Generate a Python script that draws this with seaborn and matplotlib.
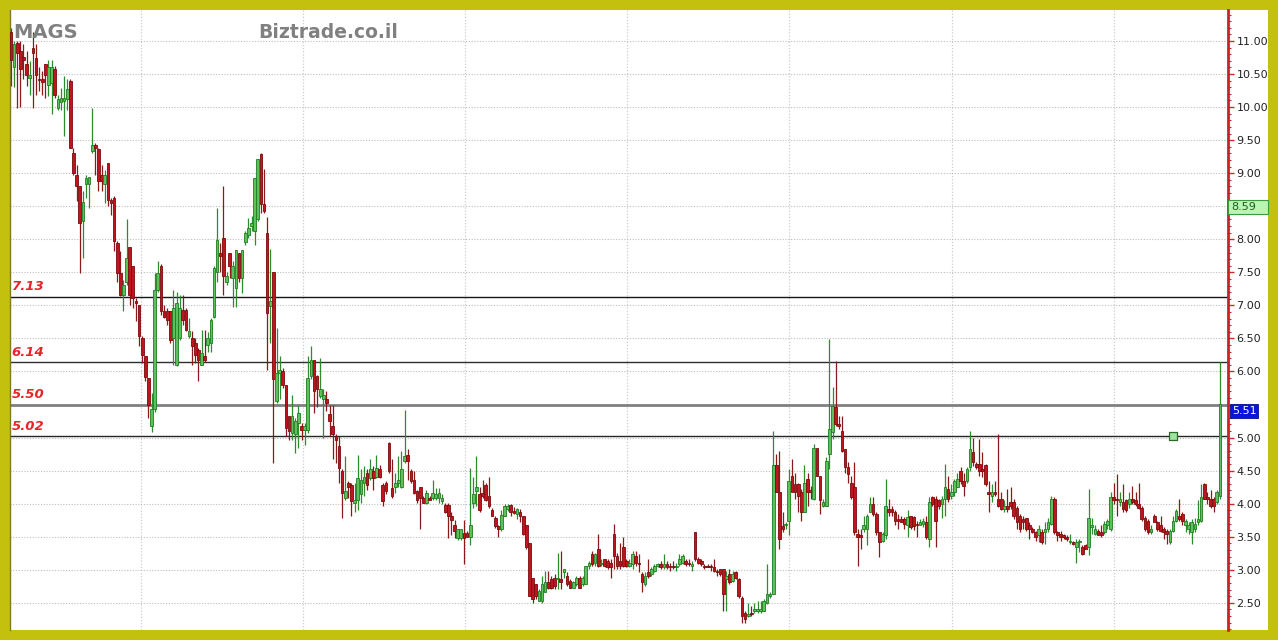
import matplotlib
matplotlib.use("Agg")
import matplotlib.pyplot as plt
from matplotlib.patches import Rectangle
from matplotlib.ticker import MultipleLocator
import numpy as np
import pandas as pd
import seaborn as sns

# ---------------- data (daily OHLC) ----------------
open_ = [
    11.13, 10.6, 10.97, 10.85, 10.76, 10.65, 10.44, 10.9, 10.75, 10.43,
    10.42, 10.65, 10.34, 10.37, 10.57, 9.99, 10.07, 10.09, 10.12, 10.39,
    9.31, 8.98, 8.8, 8.27, 8.83, 8.83, 9.33, 9.43, 9.36, 8.98,
    8.83, 9.16, 8.6, 8.63, 7.94, 7.49, 7.16, 7.36, 7.89, 7.59,
    7.06, 7.01, 6.5, 6.23, 5.9, 5.17, 5.44, 7.24, 7.59, 6.91,
    6.91, 6.91, 6.5, 6.1, 6.5, 6.93, 6.93, 6.53, 6.5, 6.43,
    6.33, 6.1, 6.23, 6.4, 6.43, 6.83, 7.51, 7.8, 8.02, 7.36,
    7.79, 7.41, 7.26, 7.79, 7.41, 7.96, 8.07, 8.2, 8.13, 8.3,
    9.29, 8.53, 8.1, 6.99, 7.5, 5.55, 5.98, 6.0, 5.8, 5.32,
    5.07, 5.05, 5.22, 5.17, 5.12, 5.12, 5.93, 6.18, 5.93, 5.63,
    5.58, 5.58, 5.35, 5.17, 5.02, 4.87, 4.49, 4.09, 4.31, 4.29,
    4.01, 4.06, 4.14, 4.31, 4.46, 4.39, 4.49, 4.41, 4.52, 4.29,
    4.31, 4.92, 4.24, 4.26, 4.31, 4.26, 4.64, 4.74, 4.49, 4.36,
    4.19, 4.26, 4.09, 4.01, 4.09, 4.09, 4.09, 4.09, 4.04, 3.98,
    3.98, 3.81, 3.68, 3.48, 3.48, 3.56, 3.56, 3.5, 4.01, 4.19,
    4.14, 4.16, 4.29, 4.11, 3.91, 3.78, 3.66, 3.61, 3.82, 3.92,
    3.98, 3.89, 3.84, 3.87, 3.82, 3.67, 3.41, 2.88, 2.78, 2.53,
    2.53, 2.66, 2.81, 2.86, 2.88, 2.86, 2.86, 2.96, 2.91, 2.83,
    2.73, 2.78, 2.88, 2.78, 2.78, 3.06, 3.24, 3.11, 3.31, 3.09,
    3.16, 3.14, 3.11, 3.54, 3.21, 3.14, 3.34, 3.14, 3.06, 3.09,
    3.21, 3.11, 2.93, 2.78, 2.96, 2.93, 2.98, 3.06, 3.09, 3.04,
    3.09, 3.06, 3.06, 3.04, 3.09, 3.11, 3.14, 3.11, 3.06, 3.57,
    3.16, 3.14, 3.06, 3.06, 3.06, 3.04, 2.98, 3.01, 3.01, 2.86,
    2.93, 2.83, 2.96, 2.86, 2.58, 2.35, 2.3, 2.35, 2.38, 2.38,
    2.38, 2.38, 2.5, 2.61, 2.64, 4.58, 4.17, 3.66, 3.67, 3.74,
    4.42, 4.3, 4.3, 4.17, 3.87, 4.37, 4.2, 4.07, 4.85, 4.42,
    3.97, 3.97, 4.75, 5.08, 5.46, 5.2, 5.1, 4.83, 4.55, 4.32,
    4.25, 3.54, 3.52, 3.62, 3.62, 3.87, 4.0, 3.85, 3.57, 3.44,
    3.52, 3.92, 3.92, 3.87, 3.77, 3.77, 3.77, 3.67, 3.82, 3.8,
    3.69, 3.67, 3.69, 3.72, 3.47, 4.1, 4.07, 4.05, 3.99, 4.07,
    4.22, 4.12, 4.17, 4.25, 4.5, 4.35, 4.35, 4.55, 4.78, 4.6,
    4.6, 4.53, 4.58, 4.17, 4.12, 4.17, 4.07, 4.07, 3.92, 3.97,
    4.02, 4.02, 3.94, 3.82, 3.77, 3.79, 3.67, 3.62, 3.57, 3.52,
    3.57, 3.57, 3.62, 3.69, 4.07, 3.57, 3.54, 3.52, 3.49, 3.42,
    3.42, 3.34, 3.42, 3.34, 3.37, 3.34, 3.64, 3.54, 3.59, 3.57,
    3.57, 3.67, 3.62, 4.1, 4.07, 4.02, 4.02, 4.05, 3.99, 4.07,
    4.05, 4.0, 3.94, 3.79, 3.74, 3.57, 3.82, 3.72, 3.67, 3.62,
    3.59, 3.42, 3.59, 3.74, 3.82, 3.84, 3.67, 3.62, 3.57, 3.62,
    3.72, 3.74, 4.3, 4.1, 4.07, 4.07, 4.02, 4.12,
]
high = [
    11.2, 11.0, 11.0, 11.0, 10.95, 10.85, 10.7, 11.13, 10.95, 10.6,
    10.55, 10.65, 10.72, 10.72, 10.62, 10.19, 10.29, 10.47, 10.42, 10.42,
    9.38, 9.13, 8.8, 8.73, 8.98, 8.95, 9.99, 9.46, 9.38, 9.13,
    9.05, 9.16, 8.63, 8.65, 7.97, 7.82, 7.39, 8.3, 7.89, 7.59,
    7.11, 7.01, 6.53, 6.23, 5.9, 5.67, 7.49, 7.67, 7.62, 7.01,
    6.96, 6.91, 7.24, 7.21, 7.16, 7.16, 6.96, 6.81, 6.61, 6.5,
    6.35, 6.63, 6.63, 6.6, 6.81, 7.59, 8.47, 7.94, 8.8, 7.51,
    7.79, 7.67, 7.84, 7.79, 7.84, 8.12, 8.32, 8.35, 8.93, 9.21,
    9.3, 9.06, 8.33, 7.85, 7.5, 6.66, 6.23, 6.05, 5.8, 5.32,
    5.65, 5.3, 5.5, 5.22, 5.22, 6.23, 6.38, 6.18, 5.95, 6.2,
    5.73, 5.7, 5.5, 5.5, 5.05, 5.02, 4.52, 4.72, 4.34, 4.31,
    4.31, 4.74, 4.52, 4.57, 4.52, 4.67, 4.57, 4.74, 4.59, 4.31,
    4.34, 4.94, 4.67, 4.46, 4.72, 4.79, 5.42, 4.82, 4.52, 4.49,
    4.21, 4.26, 4.11, 4.21, 4.11, 4.36, 4.24, 4.24, 4.14, 4.01,
    4.01, 3.88, 3.76, 3.61, 3.61, 3.76, 3.58, 4.54, 4.41, 4.72,
    4.26, 4.36, 4.31, 4.41, 3.93, 3.81, 3.68, 3.91, 3.99, 3.99,
    3.99, 3.95, 3.94, 3.92, 3.82, 3.67, 3.41, 2.88, 2.78, 2.71,
    2.91, 2.98, 2.98, 2.91, 2.93, 3.26, 3.29, 3.01, 2.96, 2.86,
    2.83, 2.91, 2.91, 2.91, 3.06, 3.14, 3.29, 3.26, 3.54, 3.16,
    3.16, 3.16, 3.16, 3.69, 3.26, 3.41, 3.49, 3.16, 3.16, 3.29,
    3.29, 3.24, 2.96, 2.96, 3.16, 3.04, 3.09, 3.11, 3.14, 3.24,
    3.14, 3.11, 3.14, 3.11, 3.24, 3.24, 3.16, 3.16, 3.14, 3.57,
    3.19, 3.16, 3.09, 3.09, 3.09, 3.16, 3.01, 3.01, 3.01, 2.98,
    3.01, 2.98, 2.98, 2.88, 2.61, 2.38, 2.5, 2.45, 2.5, 2.53,
    2.53, 2.56, 3.09, 2.66, 5.1, 4.75, 4.8, 3.87, 3.72, 4.52,
    4.68, 4.47, 4.32, 4.22, 4.58, 4.47, 4.27, 4.9, 4.85, 4.42,
    4.07, 4.7, 6.49, 5.76, 6.16, 5.33, 5.33, 4.83, 4.63, 4.42,
    4.63, 3.62, 3.62, 3.82, 3.85, 4.1, 4.1, 3.87, 3.57, 3.57,
    4.37, 4.07, 3.97, 3.9, 3.85, 3.82, 3.8, 3.9, 3.82, 3.82,
    3.74, 3.77, 3.79, 3.82, 4.1, 4.12, 4.12, 4.07, 4.12, 4.6,
    4.42, 4.3, 4.37, 4.47, 4.55, 4.47, 4.55, 5.1, 5.0, 4.63,
    4.98, 4.78, 4.6, 4.35, 4.3, 4.35, 5.05, 4.17, 4.05, 4.22,
    4.25, 4.07, 3.97, 3.84, 3.82, 3.79, 3.72, 3.65, 3.59, 3.67,
    3.62, 3.72, 3.79, 4.12, 4.1, 3.59, 3.59, 3.54, 3.52, 3.54,
    3.44, 3.47, 3.47, 3.37, 3.39, 4.22, 3.79, 3.67, 3.62, 3.67,
    3.74, 3.77, 4.17, 4.32, 4.45, 4.17, 4.3, 4.07, 4.17, 4.27,
    4.17, 4.32, 3.97, 3.82, 3.77, 3.67, 3.84, 3.74, 3.82, 3.64,
    3.62, 3.62, 3.82, 3.92, 4.07, 3.87, 3.77, 3.72, 3.77, 3.79,
    4.05, 4.3, 4.32, 4.17, 4.2, 4.1, 4.2, 6.14,
]
low = [
    10.32, 10.3, 9.99, 10.0, 10.42, 10.32, 10.19, 9.99, 10.19, 10.24,
    10.19, 10.14, 10.17, 9.89, 10.14, 9.96, 9.96, 9.56, 9.96, 9.38,
    8.98, 8.58, 7.49, 7.72, 8.62, 8.47, 9.31, 8.98, 8.73, 8.73,
    8.55, 8.5, 8.37, 7.82, 7.36, 7.14, 6.91, 7.31, 7.01, 6.96,
    6.76, 6.38, 6.13, 5.85, 5.29, 5.09, 5.39, 7.2, 6.86, 6.81,
    6.71, 6.43, 6.1, 6.08, 6.48, 6.71, 6.61, 6.5, 6.1, 6.13,
    5.85, 6.1, 6.15, 6.3, 6.3, 6.81, 7.36, 7.51, 7.16, 7.31,
    7.41, 6.98, 6.98, 7.36, 7.19, 7.92, 8.02, 8.12, 7.92, 8.28,
    8.4, 8.4, 6.03, 6.43, 4.62, 5.53, 5.58, 5.75, 5.02, 4.97,
    4.97, 4.77, 4.84, 4.97, 4.89, 5.07, 5.88, 5.37, 5.47, 5.6,
    5.0, 5.4, 5.02, 4.67, 4.62, 4.31, 3.78, 4.06, 4.09, 3.81,
    3.88, 3.91, 4.01, 4.11, 4.21, 4.36, 4.21, 4.39, 4.39, 3.96,
    4.14, 4.46, 4.09, 4.16, 4.26, 4.24, 4.62, 4.36, 4.31, 4.14,
    4.01, 3.61, 4.01, 3.99, 4.06, 4.06, 4.06, 4.01, 3.99, 3.86,
    3.48, 3.53, 3.48, 3.45, 3.45, 3.08, 3.5, 3.38, 3.93, 3.96,
    3.88, 4.09, 4.04, 3.93, 3.81, 3.63, 3.5, 3.58, 3.82, 3.89,
    3.82, 3.84, 3.77, 3.72, 3.52, 3.31, 2.61, 2.5, 2.56, 2.53,
    2.5, 2.66, 2.71, 2.71, 2.71, 2.71, 2.71, 2.88, 2.76, 2.73,
    2.73, 2.76, 2.73, 2.76, 2.78, 3.01, 3.06, 3.06, 3.04, 3.06,
    3.04, 3.01, 2.88, 3.01, 3.01, 3.01, 3.04, 3.04, 3.04, 3.01,
    3.06, 2.96, 2.66, 2.76, 2.88, 2.91, 2.96, 3.04, 3.01, 3.01,
    3.01, 2.98, 3.01, 2.98, 3.06, 3.09, 3.06, 3.06, 2.98, 3.14,
    3.09, 3.06, 3.01, 3.04, 2.98, 2.96, 2.91, 2.91, 2.38, 2.38,
    2.78, 2.81, 2.86, 2.58, 2.2, 2.2, 2.28, 2.3, 2.35, 2.35,
    2.35, 2.38, 2.48, 2.58, 2.64, 4.17, 3.32, 3.57, 3.62, 3.52,
    4.17, 4.07, 3.87, 3.74, 3.87, 3.97, 4.07, 4.05, 4.42, 3.85,
    3.95, 3.97, 4.52, 4.98, 5.18, 5.13, 4.78, 4.47, 4.32, 4.07,
    3.52, 3.06, 3.32, 3.57, 3.37, 3.87, 3.82, 3.52, 3.19, 3.42,
    3.47, 3.82, 3.82, 3.67, 3.62, 3.72, 3.62, 3.49, 3.62, 3.6,
    3.49, 3.67, 3.64, 3.47, 3.34, 3.97, 3.34, 3.92, 3.79, 3.82,
    4.02, 4.07, 4.12, 4.25, 4.3, 4.12, 4.32, 4.5, 4.57, 4.53,
    4.42, 4.4, 4.27, 3.87, 4.02, 4.12, 3.95, 3.9, 3.87, 3.87,
    3.92, 3.77, 3.62, 3.57, 3.62, 3.59, 3.47, 3.55, 3.44, 3.42,
    3.39, 3.39, 3.57, 3.67, 3.54, 3.44, 3.44, 3.47, 3.44, 3.39,
    3.37, 3.11, 3.27, 3.22, 3.32, 3.22, 3.54, 3.52, 3.52, 3.49,
    3.54, 3.62, 3.59, 3.99, 3.82, 3.97, 3.87, 3.87, 3.94, 3.99,
    3.97, 3.92, 3.74, 3.59, 3.54, 3.54, 3.72, 3.59, 3.57, 3.47,
    3.39, 3.39, 3.57, 3.72, 3.74, 3.67, 3.57, 3.54, 3.39, 3.57,
    3.67, 3.72, 4.07, 4.0, 3.94, 3.87, 3.99, 4.07,
]
close = [
    10.72, 10.95, 10.82, 10.57, 10.72, 10.49, 10.49, 10.82, 10.49, 10.41,
    10.38, 10.49, 10.6, 10.6, 10.19, 10.12, 10.14, 10.14, 10.27, 9.38,
    9.0, 8.8, 8.25, 8.57, 8.93, 8.95, 9.43, 9.38, 8.88, 8.88,
    8.98, 8.6, 8.55, 7.97, 7.49, 7.16, 7.31, 7.72, 7.16, 7.11,
    7.03, 6.53, 6.25, 5.92, 5.5, 5.44, 7.24, 7.49, 6.91, 6.83,
    6.78, 6.48, 6.96, 7.03, 6.96, 6.78, 6.63, 6.61, 6.38, 6.25,
    6.18, 6.28, 6.18, 6.5, 6.78, 7.57, 7.99, 7.74, 7.44, 7.44,
    7.59, 7.59, 7.84, 7.41, 7.84, 8.09, 8.17, 8.25, 8.93, 9.21,
    8.53, 8.43, 6.89, 7.07, 5.88, 5.98, 6.03, 5.8, 5.15, 5.1,
    5.32, 5.25, 5.37, 5.12, 5.17, 5.9, 6.18, 5.7, 5.73, 5.73,
    5.65, 5.53, 5.25, 5.05, 4.97, 4.54, 4.16, 4.19, 4.26, 4.04,
    4.06, 4.39, 4.36, 4.41, 4.29, 4.52, 4.39, 4.54, 4.41, 4.04,
    4.19, 4.49, 4.11, 4.31, 4.36, 4.52, 4.72, 4.64, 4.34, 4.16,
    4.06, 4.09, 4.01, 4.16, 4.06, 4.16, 4.14, 4.16, 4.09, 3.88,
    3.81, 3.76, 3.58, 3.61, 3.61, 3.48, 3.5, 3.68, 4.14, 4.26,
    3.91, 4.11, 4.06, 3.96, 3.81, 3.66, 3.61, 3.83, 3.97, 3.97,
    3.87, 3.86, 3.92, 3.82, 3.54, 3.34, 2.61, 2.56, 2.61, 2.68,
    2.78, 2.81, 2.73, 2.73, 2.76, 2.88, 2.81, 3.01, 2.78, 2.73,
    2.81, 2.88, 2.73, 2.88, 3.06, 3.11, 3.09, 3.24, 3.06, 3.11,
    3.06, 3.04, 3.04, 3.21, 3.06, 3.06, 3.06, 3.06, 3.11, 3.24,
    3.11, 3.09, 2.81, 2.91, 2.91, 3.01, 3.06, 3.09, 3.04, 3.09,
    3.04, 3.04, 3.04, 3.06, 3.16, 3.21, 3.09, 3.09, 3.09, 3.16,
    3.11, 3.09, 3.04, 3.04, 3.04, 2.98, 2.96, 2.93, 2.63, 2.91,
    2.81, 2.93, 2.88, 2.61, 2.3, 2.25, 2.33, 2.33, 2.4, 2.4,
    2.4, 2.53, 2.63, 2.64, 4.58, 4.17, 3.47, 3.62, 3.67, 4.35,
    4.17, 4.17, 4.12, 3.87, 4.32, 4.17, 4.17, 4.85, 4.42, 4.05,
    4.02, 4.65, 5.13, 5.48, 5.2, 5.18, 4.8, 4.55, 4.45, 4.1,
    3.57, 3.49, 3.49, 3.67, 3.82, 4.0, 3.85, 3.57, 3.42, 3.54,
    3.97, 3.87, 3.87, 3.74, 3.74, 3.72, 3.69, 3.8, 3.64, 3.66,
    3.67, 3.72, 3.74, 3.49, 4.02, 4.0, 3.74, 3.97, 4.07, 4.25,
    4.07, 4.17, 4.35, 4.37, 4.35, 4.27, 4.52, 4.83, 4.63, 4.55,
    4.5, 4.5, 4.3, 4.15, 4.17, 4.15, 3.97, 3.92, 3.97, 3.92,
    3.97, 3.82, 3.72, 3.62, 3.72, 3.62, 3.62, 3.57, 3.49, 3.62,
    3.42, 3.62, 3.72, 4.07, 3.57, 3.52, 3.49, 3.49, 3.47, 3.44,
    3.39, 3.42, 3.44, 3.24, 3.32, 3.79, 3.67, 3.62, 3.52, 3.52,
    3.69, 3.74, 4.1, 4.05, 4.05, 4.07, 3.92, 3.9, 4.07, 4.02,
    4.0, 3.94, 3.77, 3.62, 3.57, 3.62, 3.72, 3.62, 3.59, 3.57,
    3.54, 3.59, 3.74, 3.89, 3.77, 3.74, 3.74, 3.67, 3.72, 3.69,
    3.77, 4.1, 4.07, 4.07, 3.97, 3.97, 4.17, 5.51,
]

level_values = [7.13, 6.14, 5.50, 5.02]
level_labels = ["7.13", "6.14", "5.50", "5.02"]
y_tick_values = [2.5, 3.0, 3.5, 4.0, 4.5, 5.0, 5.5, 6.0, 6.5, 7.0,
                 7.5, 8.0, 8.5, 9.0, 9.5, 10.0, 10.5, 11.0]
# 8.50 and 5.50 are hidden behind the price tags in the reference
y_tick_labels = ["2.50", "3.00", "3.50", "4.00", "4.50", "5.00", "",
                 "6.00", "6.50", "7.00", "7.50", "8.00", "", "9.00",
                 "9.50", "10.00", "10.50", "11.00"]
tag_green_value, tag_green_text = 8.59, "8.59"
tag_blue_value, tag_blue_text = 5.51, "5.51"
marker_day, marker_price = 372, 5.02
symbol = "MAGS"
site = "Biztrade.co.il"

# ---------------- frame ----------------
df = pd.DataFrame({"open": open_, "high": high, "low": low, "close": close})
df["day"] = np.arange(len(df))
df["up"] = df["close"] >= df["open"]

sns.set_theme(style="white")
plt.rcParams["font.family"] = ["DejaVu Sans"]

W, H = 1278, 640
fig = plt.figure(figsize=(W / 100, H / 100), dpi=100)
fig.patch.set_facecolor("#c4c10e")
fig.add_artist(Rectangle((10 / W, 10 / H), 1258 / W, 620 / H,
                         transform=fig.transFigure, facecolor="white",
                         edgecolor="none", zorder=-5))
ax = fig.add_axes([10 / W, 10 / H, 1218 / W, 620 / H])
ax.set_facecolor("white")
ax.set_xlim(-0.32, 389.6)
ax.set_ylim(2.089, 11.469)

# grid
month_x = [41.6 + 51.9 * k for k in range(7)]
ax.set_xticks(month_x)
ax.set_yticks(y_tick_values)
ax.set_yticklabels(y_tick_labels)
ax.yaxis.set_minor_locator(MultipleLocator(0.1))
ax.yaxis.grid(True, which="major", color="#bdbdbd", lw=0.8, ls=(0, (1, 1.5)))
ax.xaxis.grid(True, which="major", color="#cccccc", lw=0.9, ls=(0, (1, 1.5)))
ax.set_axisbelow(True)

# support / resistance levels
level_colors = ["#151515", "#2e2e2e", "#808080", "#262626"]
level_widths = [1.0, 1.0, 2.0, 1.0]
ytr = ax.get_yaxis_transform()
for v, lab, c, lw in zip(level_values, level_labels, level_colors, level_widths):
    ax.axhline(v, color=c, lw=lw, zorder=1.8)
    ax.text(0.0015, v + 0.05, lab, transform=ytr, color="#e5252b",
            fontsize=9.5, fontweight="bold", fontstyle="italic",
            ha="left", va="bottom", zorder=6)

# candles
wick_c = np.where(df["up"], "#2d8a2d", "#8a1a1a")
body_c = np.where(df["up"], "#5cc05c", "#bf1520")
edge_c = np.where(df["up"], "#1e7e1e", "#7d0a0a")
ax.vlines(df["day"], df["low"], df["high"], colors=wick_c, lw=0.9, zorder=2)
bottoms = np.minimum(df["open"], df["close"])
heights = np.maximum((df["close"] - df["open"]).abs(), 0.02)
ax.bar(df["day"], heights, bottom=bottoms, width=0.85, color=body_c,
       edgecolor=edge_c, linewidth=0.6, zorder=3)

# annotation marker
sns.scatterplot(x=[marker_day], y=[marker_price], marker="s", s=30,
                color="#9fe39f", edgecolor="#2a6a2a", linewidth=0.9,
                ax=ax, zorder=5, legend=False)

# axes styling
ax.yaxis.tick_right()
ax.tick_params(axis="y", which="major", right=True, left=False, length=4,
               width=1, color="#cc2a2a", labelsize=8, labelcolor="#222222",
               pad=2)
ax.tick_params(axis="y", which="minor", right=True, left=False, length=2,
               width=0.8, color="#cc2a2a")
ax.tick_params(axis="x", length=0, labelbottom=False, bottom=False)
for s in ["top", "bottom"]:
    ax.spines[s].set_visible(False)
ax.spines["right"].set_color("#cc2222")
ax.spines["right"].set_linewidth(2)
ax.spines["left"].set_color("#7d7a2a")
ax.spines["left"].set_linewidth(1)
ax.set_xlabel("")
ax.set_ylabel("")

# price tags on the right axis
ppx = (11.469 - 2.089) / 620.0
ax.add_patch(Rectangle((1.0, tag_green_value - 14 * ppx), 40 / 1218, 14 * ppx,
                       transform=ytr, clip_on=False, facecolor="#b9f5b3",
                       edgecolor="#3b9a3b", lw=0.8, zorder=10))
ax.text(1.0 + 3 / 1218, tag_green_value - 7 * ppx, tag_green_text,
        transform=ytr, ha="left", va="center", fontsize=8, color="#1b5e1b",
        zorder=11, clip_on=False)
ax.add_patch(Rectangle((1.0 + 2 / 1218, tag_blue_value - 14 * ppx), 28 / 1218,
                       14 * ppx, transform=ytr, clip_on=False,
                       facecolor="#0a14dc", edgecolor="#0a0a90", lw=0.6,
                       zorder=10))
ax.text(1.0 + 4 / 1218, tag_blue_value - 7 * ppx, tag_blue_text,
        transform=ytr, ha="left", va="center", fontsize=8, color="white",
        zorder=11, clip_on=False)

# titles
fig.text(13 / W, 1 - 38 / H, symbol, fontsize=14, fontweight="bold",
         color="#808080", ha="left", va="baseline")
fig.text(258 / W, 1 - 38 / H, site, fontsize=13.5, fontweight="bold",
         color="#808080", ha="left", va="baseline")

fig.savefig("out.png", dpi=100)
